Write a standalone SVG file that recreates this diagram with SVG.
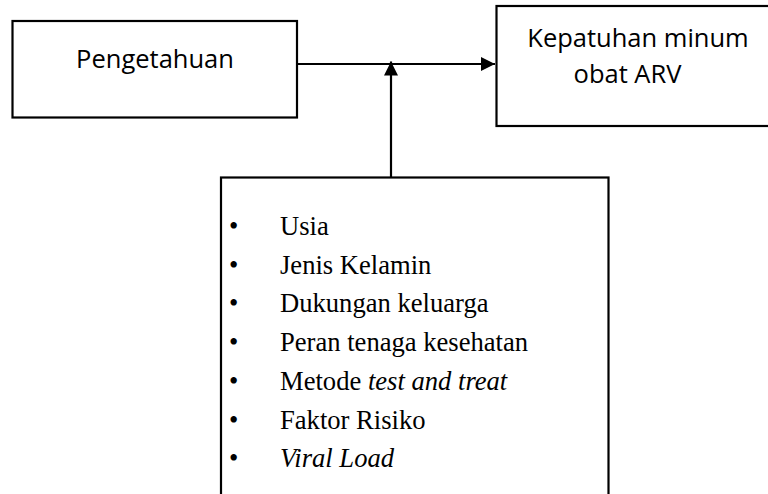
<svg xmlns="http://www.w3.org/2000/svg" width="768" height="494" viewBox="0 0 768 494">
<style>
.box{fill:#fff;stroke:#000;stroke-width:2.2}
.lbl{font-family:"Open Sans","Liberation Sans",sans-serif;font-size:25.5px;fill:#000;text-anchor:middle}
text.li{font-family:'Liberation Serif','Tinos','DejaVu Serif',serif;font-size:26.6px;fill:#000}
.conn{stroke:#000;stroke-width:2.2;fill:none}
</style>
<defs>
<marker id="ah" viewBox="0 0 10 10" refX="10" refY="5" markerWidth="15" markerHeight="14" markerUnits="userSpaceOnUse" orient="auto">
<path d="M0,0 L10,5 L0,10 Z" fill="#000"/>
</marker>
</defs>
<rect width="768" height="494" fill="#fff"/>
<g id="pengetahuan">
<rect class="box" x="12.5" y="21" width="284.5" height="96.5"/>
<text class="lbl" x="155" y="68.3">Pengetahuan</text>
</g>
<g id="kepatuhan">
<rect class="box" x="496.5" y="6" width="280" height="120"/>
<text class="lbl" x="638" y="46.7">Kepatuhan minum</text>
<text class="lbl" x="627.5" y="82.7">obat ARV</text>
</g>
<g id="faktor">
<rect class="box" x="221" y="177.5" width="387.5" height="330"/>
<text class="li" x="229" y="235">•</text><text class="li" x="280" y="235">Usia</text>
<text class="li" x="229" y="273.7">•</text><text class="li" x="280" y="273.7">Jenis Kelamin</text>
<text class="li" x="229" y="312.4">•</text><text class="li" x="280" y="312.4">Dukungan keluarga</text>
<text class="li" x="229" y="351.1">•</text><text class="li" x="280" y="351.1">Peran tenaga kesehatan</text>
<text class="li" x="229" y="389.8">•</text><text class="li" x="280" y="389.8">Metode <tspan font-style="italic">test and treat</tspan></text>
<text class="li" x="229" y="428.5">•</text><text class="li" x="280" y="428.5">Faktor Risiko</text>
<text class="li" x="229" y="467.2">•</text><text class="li" x="280" y="467.2" font-style="italic">Viral Load</text>
</g>
<g id="connectors">
<line class="conn" x1="297" y1="64" x2="495" y2="64" marker-end="url(#ah)"/>
<line class="conn" x1="391" y1="177.5" x2="391" y2="61.5" marker-end="url(#ah)"/>
</g>
</svg>
